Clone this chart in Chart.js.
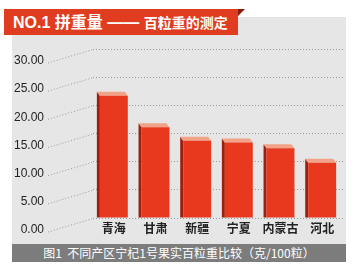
<!DOCTYPE html>
<html>
<head>
<meta charset="utf-8">
<script src="https://cdn.jsdelivr.net/npm/chart.js@4/dist/chart.umd.min.js"></script>
<style>
  body { margin: 0; background: #fff; }
  #wrap { position: relative; width: 359px; height: 269px; overflow: hidden; }
  #panel { position: absolute; left: 12px; top: 17px; width: 334px; height: 245px; background: #e6e6e6; }
  #banner {
    position: absolute; left: 4px; top: 9px; width: 234px; height: 26px;
    background: #e03c20; color: #fff; font-weight: bold;
    font-family: "Liberation Sans", "Noto Sans CJK SC", sans-serif;
    line-height: 26px; white-space: nowrap;
  }
  #banner .big { font-size: 16px; padding-left: 9px; }
  #banner .small { font-size: 14px; font-family: "Noto Sans CJK SC", sans-serif; }
  #fold {
    position: absolute; left: 238px; top: 9px; width: 0; height: 0;
    border-top: 7px solid #8c1a0a; border-right: 7px solid transparent;
  }
  #caption {
    position: absolute; left: 12px; top: 244px; width: 334px; height: 18px;
    background: #7c7c7c; color: #fff; text-align: center;
    font-family: "Noto Sans CJK SC", sans-serif; font-size: 12px; line-height: 18px;
    white-space: nowrap;
  }
  canvas { position: absolute; left: 0; top: 0; }
</style>
</head>
<body>
<div id="wrap">
  <div id="panel"></div>
  <canvas id="chart" width="359" height="269"></canvas>
  <div id="banner"><span class="big">NO.1 拼重量 —— </span><span class="small">百粒重的测定</span></div>
  <div id="fold"></div>
  <div id="caption">图1&nbsp; 不同产区宁杞1号果实百粒重比较（克/100粒）</div>
</div>
<script>
const regions = ['青海', '甘肃', '新疆', '宁夏', '内蒙古', '河北'];
const weights = [21.7, 16.1, 13.7, 13.4, 12.4, 9.8];
const yTicks = [0, 5, 10, 15, 20, 25, 30];

// side + top faces for the pseudo 3D bars
const bar3d = {
  id: 'bar3d',
  beforeDatasetsDraw(chart) {
    const ctx = chart.ctx;
    const dx = 3, dy = 4;
    chart.getDatasetMeta(0).data.forEach(bar => {
      const l = bar.x - bar.width / 2;
      const r = bar.x + bar.width / 2;
      ctx.save();
      ctx.fillStyle = '#9e1f0d';
      ctx.beginPath();
      ctx.moveTo(l, bar.y);
      ctx.lineTo(l - dx, bar.y - dy);
      ctx.lineTo(l - dx, bar.base);
      ctx.lineTo(l, bar.base);
      ctx.closePath();
      ctx.fill();
      ctx.fillStyle = '#f2a286';
      ctx.beginPath();
      ctx.moveTo(l, bar.y);
      ctx.lineTo(l - dx, bar.y - dy);
      ctx.lineTo(r - dx, bar.y - dy);
      ctx.lineTo(r, bar.y);
      ctx.closePath();
      ctx.fill();
      ctx.restore();
    });
  }
};

// dotted slants from the labels up to the grid lines
const connectors = {
  id: 'connectors',
  beforeDatasetsDraw(chart) {
    const ctx = chart.ctx;
    const y = chart.scales.y;
    ctx.save();
    ctx.strokeStyle = '#9a9a9a';
    ctx.lineWidth = 1;
    ctx.setLineDash([1, 2]);
    y.ticks.forEach(t => {
      const py = y.getPixelForValue(t.value);
      ctx.beginPath();
      ctx.moveTo(48, py + 14);
      ctx.lineTo(chart.chartArea.left, py + 0.5);
      ctx.stroke();
    });
    ctx.restore();
  }
};

new Chart(document.getElementById('chart'), {
  type: 'bar',
  data: {
    labels: regions,
    datasets: [{
      data: weights,
      backgroundColor: '#e8391e',
      borderWidth: 0,
      barPercentage: 0.67,
      categoryPercentage: 1
    }]
  },
  options: {
    responsive: false,
    animation: false,
    layout: { padding: { top: 49, bottom: 21, left: 0, right: 16 } },
    plugins: { legend: { display: false }, tooltip: { enabled: false } },
    scales: {
      x: {
        grid: { display: false, drawTicks: false },
        border: { display: false },
        ticks: {
          padding: 3,
          maxRotation: 0,
          minRotation: 0,
          autoSkip: false,
          color: '#222',
          font: { size: 12, weight: 'bold', family: '"Noto Sans CJK SC", sans-serif' }
        },
        afterFit(scale) { scale.height = 30; scale.paddingLeft = 0; scale.paddingRight = 0; }
      },
      y: {
        min: 0,
        max: 30,
        afterBuildTicks(scale) { scale.ticks = yTicks.map(v => ({ value: v })); },
        grid: { color: '#9a9a9a', drawTicks: false },
        border: { display: false, dash: [1, 2] },
        ticks: {
          padding: 49,
          labelOffset: 12,
          color: '#222',
          font: { size: 12, family: '"Liberation Sans", Arial, sans-serif' },
          callback: v => v.toFixed(2)
        },
        afterFit(scale) { scale.width = 93; scale.paddingTop = 0; scale.paddingBottom = 0; }
      }
    }
  },
  plugins: [connectors, bar3d]
});
</script>
</body>
</html>
